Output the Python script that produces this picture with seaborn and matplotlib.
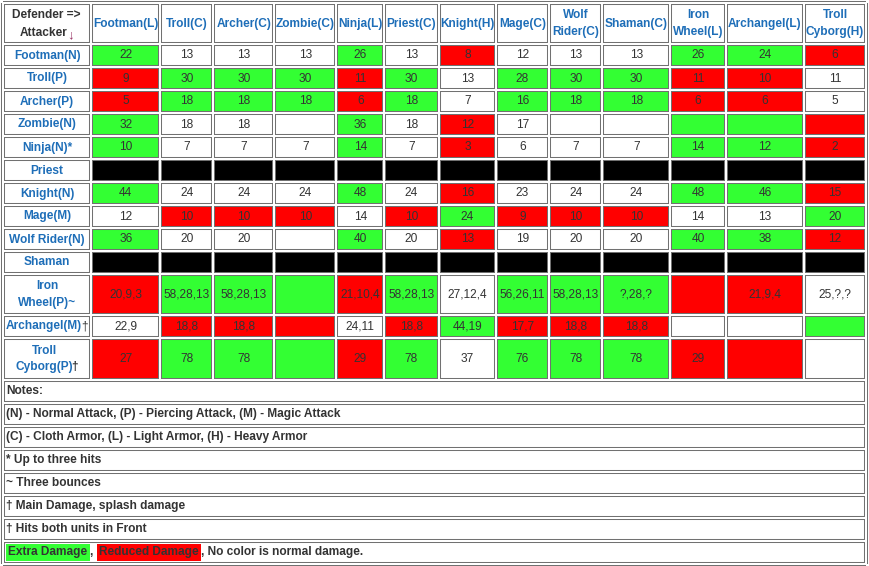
import numpy as np
import matplotlib
matplotlib.use('Agg')
import matplotlib.pyplot as plt
from matplotlib.colors import ListedColormap
import seaborn as sns

plt.rcParams['font.family'] = ['Liberation Sans', 'DejaVu Sans']

# Tabel damage: baris = penyerang, kolom = bertahan
defenders = ['Footman(L)', 'Troll(C)', 'Archer(C)', 'Zombie(C)', 'Ninja(L)', 'Priest(C)',
             'Knight(H)', 'Mage(C)', 'Wolf\nRider(C)', 'Shaman(C)', 'Iron\nWheel(L)',
             'Archangel(L)', 'Troll\nCyborg(H)']
attackers = ['Footman(N)', 'Troll(P)', 'Archer(P)', 'Zombie(N)', 'Ninja(N)*', 'Priest',
             'Knight(N)', 'Mage(M)', 'Wolf Rider(N)', 'Shaman', 'Iron\nWheel(P)~',
             'Archangel(M)', 'Troll\nCyborg(P)']
attacker_marks = ['', '', '', '', '', '', '', '', '', '', '', '†', '†']

damage = [
    ['22', '13', '13', '13', '26', '13', '8', '12', '13', '13', '26', '24', '6'],
    ['9', '30', '30', '30', '11', '30', '13', '28', '30', '30', '11', '10', '11'],
    ['5', '18', '18', '18', '6', '18', '7', '16', '18', '18', '6', '6', '5'],
    ['32', '18', '18', '', '36', '18', '12', '17', '', '', '', '', ''],
    ['10', '7', '7', '7', '14', '7', '3', '6', '7', '7', '14', '12', '2'],
    ['', '', '', '', '', '', '', '', '', '', '', '', ''],
    ['44', '24', '24', '24', '48', '24', '16', '23', '24', '24', '48', '46', '15'],
    ['12', '10', '10', '10', '14', '10', '24', '9', '10', '10', '14', '13', '20'],
    ['36', '20', '20', '', '40', '20', '13', '19', '20', '20', '40', '38', '12'],
    ['', '', '', '', '', '', '', '', '', '', '', '', ''],
    ['20,9,3', '58,28,13', '58,28,13', '', '21,10,4', '58,28,13', '27,12,4', '56,26,11',
     '58,28,13', '?,28,?', '', '21,9,4', '25,?,?'],
    ['22,9', '18,8', '18,8', '', '24,11', '18,8', '44,19', '17,7', '18,8', '18,8', '', '', ''],
    ['27', '78', '78', '', '29', '78', '37', '76', '78', '78', '29', '', ''],
]

# w = normal, g = extra damage, r = reduced damage, k = tidak ada serangan
effect = [
    'gwwwgwrwwwggr',
    'rgggrgwgggrrw',
    'rgggrgwgggrrw',
    'gwwwgwrwwwggr',
    'gwwwgwrwwwggr',
    'kkkkkkkkkkkkk',
    'gwwwgwrwwwggr',
    'wrrrwrgrrrwwg',
    'gwwwgwrwwwggr',
    'kkkkkkkkkkkkk',
    'rgggrgwgggrrw',
    'wrrrwrgrrrwwg',
    'rgggrgwgggrrw',
]

notes = ['Notes:',
         '(N) - Normal Attack, (P) - Piercing Attack, (M) - Magic Attack',
         '(C) - Cloth Armor, (L) - Light Armor, (H) - Heavy Armor',
         '* Up to three hits',
         '~ Three bounces',
         '† Main Damage, splash damage',
         '† Hits both units in Front']
legend_parts = ['Extra Damage', ', ', 'Reduced Damage', ', No color is normal damage.']

# Layout dalam piksel
W, H = 870, 566
col_edges = [3, 91.5, 160, 213.5, 274, 336.5, 384, 439, 496, 549, 602.5, 670, 726, 804, 866]
row_edges = [3, 44, 67, 90, 113, 136, 159, 182, 205, 228, 251, 274, 315, 338, 380,
             403, 426, 449, 472, 495, 518, 541, 564]
blue = '#1e6eb8'
dark = '#333333'
green = '#33ff33'
red = '#ff0000'
fs = 8.6

code_map = {'w': 0, 'g': 1, 'r': 2, 'k': 3}
n = len(defenders) + 1
grid = np.zeros((n, n))
grid[1:, 1:] = [[code_map[c] for c in row] for row in effect]
annot = np.full((n, n), '', dtype=object)
annot[1:, 1:] = np.array(damage, dtype=object)

fig = plt.figure(figsize=(W / 100, H / 100), dpi=100)
ax = fig.add_axes([col_edges[0] / W, 1 - row_edges[-1] / H,
                   (col_edges[-1] - col_edges[0]) / W, (row_edges[-1] - row_edges[0]) / H])

sns.heatmap(grid, ax=ax, cmap=ListedColormap(['white', green, red, 'black']),
            vmin=-0.5, vmax=3.5, cbar=False, annot=annot, fmt='',
            annot_kws=dict(color=dark, fontsize=fs),
            xticklabels=False, yticklabels=False)

# Lebar kolom / tinggi baris tidak seragam
xi = np.arange(len(col_edges))
yi = np.arange(len(row_edges))
ax.set_xscale('function', functions=(lambda v: np.interp(v, xi, col_edges),
                                     lambda p: np.interp(p, col_edges, xi)))
ax.set_yscale('function', functions=(lambda v: np.interp(v, yi, row_edges),
                                     lambda p: np.interp(p, row_edges, yi)))
ax.set_xlim(0, len(col_edges) - 1)
ax.set_ylim(len(row_edges) - 1, 0)
ax.axis('off')

# Garis sel: abu-abu dengan celah putih
n_rows = len(row_edges) - 1
for lw, c in [(2.9, '#707070'), (1.45, 'white')]:
    ax.vlines(range(n + 1), 0, n, colors=c, lw=lw, clip_on=False)
    ax.vlines([0, n], n, n_rows, colors=c, lw=lw, clip_on=False)
    ax.hlines(range(n_rows + 1), 0, n, colors=c, lw=lw, clip_on=False)

head = dict(color=blue, fontweight='bold', fontsize=fs, ha='center', va='center',
            linespacing=1.55)

# Sel pojok
ax.annotate('Defender =>', xy=(0.5, 0.5), xytext=(-1, 9), textcoords='offset pixels',
            color=dark, fontweight='bold', fontsize=fs, ha='center', va='center')
t = ax.annotate('Attacker', xy=(0.5, 0.5), xytext=(-4, -9.5), textcoords='offset pixels',
                color=dark, fontweight='bold', fontsize=fs, ha='center', va='center')
ax.annotate('↓', xy=(1, 0), xycoords=t, xytext=(0, -2), textcoords='offset pixels',
            color='#993366', fontweight='bold', fontsize=fs + 1, ha='left', va='bottom')

for j, name in enumerate(defenders):
    ax.text(j + 1.5, 0.5, name, **head)

for i, name in enumerate(attackers):
    if attacker_marks[i]:
        t = ax.annotate(name, xy=(0.5, i + 1.5), xytext=(-3, 0), textcoords='offset pixels',
                        **head)
        ax.annotate(attacker_marks[i], xy=(1, 0), xycoords=t, xytext=(-1.5, 0),
                    textcoords='offset pixels', color=dark,
                    fontweight='bold' if i == len(attackers) - 1 else 'normal',
                    fontsize=fs, ha='left', va='bottom')
    else:
        ax.text(0.5, i + 1.5, name, **head)

# Catatan
for k, note in enumerate(notes):
    ax.annotate(note, xy=(0, n + k + 0.5), xytext=(3, 0), textcoords='offset pixels',
                color=dark, fontweight='bold', fontsize=fs, ha='left', va='center')

y_leg = n + len(notes) + 0.5
boxes = [green, None, red, None]
pad_px = 0.2 * fs * 100 / 72
t = None
prev_box = False
for part, fc in zip(legend_parts, boxes):
    kw = dict(color=dark, fontweight='bold', fontsize=fs, ha='left')
    if fc:
        kw['bbox'] = dict(boxstyle='square,pad=0.2', fc=fc, ec='none')
    shift = (pad_px if fc else 0) + (pad_px if prev_box else 0)
    if t is None:
        t = ax.annotate(part, xy=(0, y_leg), xytext=(3 + shift, 0),
                        textcoords='offset pixels', va='center', **kw)
    else:
        t = ax.annotate(part, xy=(1, 0), xycoords=t, xytext=(shift, 0),
                        textcoords='offset pixels', va='bottom', **kw)
    prev_box = bool(fc)

plt.savefig('out.png', dpi=100)
